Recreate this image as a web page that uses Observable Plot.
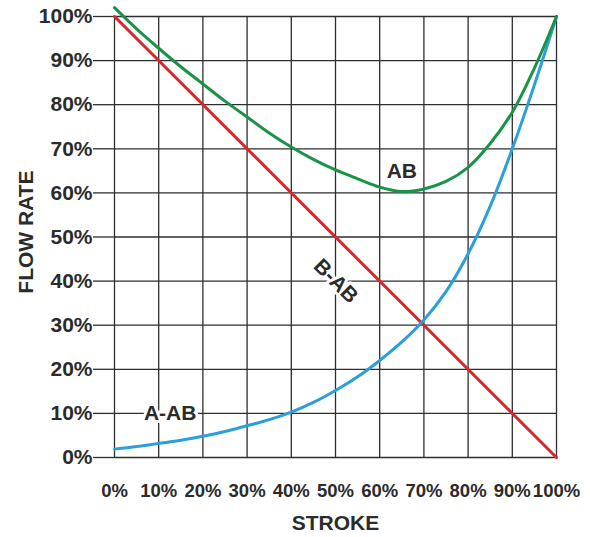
<!DOCTYPE html>
<html><head><meta charset="utf-8">
<script src="https://cdn.jsdelivr.net/npm/d3@7"></script>
<script src="https://cdn.jsdelivr.net/npm/@observablehq/plot@0.6"></script>
<style>body{margin:0;background:#fff}</style>
</head><body><div id="chart"></div>
<script>
// ticks
const tickValues = [0,10,20,30,40,50,60,70,80,90,100];
// B-AB straight line
const strokeBAB = [0, 100];
const flowBAB = [100, 0];
// sampled stroke positions for curves
const strokePts = [0,5,10,15,20,25,30,35,40,45,50,55,60,65,70,75,80,85,90,95,100];
const flowAB  = [102,97.2,92.8,88.6,84.7,80.8,77.2,73.6,70.4,67.6,65.2,63.2,61.3,60.3,60.9,62.6,65.8,71.2,78.3,88.3,100];
const flowAAB = [1.9,2.5,3.2,3.9,4.8,5.9,7.2,8.6,10.3,12.5,15.2,18.3,22.0,26.2,31.2,37.6,46.2,57.0,70.0,84.5,100];
// annotation labels
const labels = [
  {text: "AB",   x: 65,   y: 64.8, rotate: 0},
  {text: "A-AB", x: 12.6, y: 10,   rotate: 0},
  {text: "B-AB", x: 50.1, y: 40,   rotate: 45}
];

const ab = strokePts.map((s,i)=>({s, v: flowAB[i]}));
const aab = strokePts.map((s,i)=>({s, v: flowAAB[i]}));
const bab = strokeBAB.map((s,i)=>({s, v: flowBAB[i]}));
const ink = "#2b2b2b";

const chart = Plot.plot({
  width: 590, height: 537,
  marginLeft: 114, marginRight: 34, marginTop: 16, marginBottom: 80,
  style: {fontFamily: "'Liberation Sans', Arial, sans-serif", fontWeight: "bold", color: ink, background: "#fff"},
  x: {domain: [0,100]},
  y: {domain: [0,100]},
  marks: [
    Plot.ruleX(tickValues, {stroke: "#2e2e2e", strokeWidth: 1.3}),
    Plot.ruleY(tickValues, {stroke: "#2e2e2e", strokeWidth: 1.3}),
    Plot.axisY({ticks: tickValues, tickFormat: d => d + "%", tickSize: 21, tickPadding: 1, fontSize: 21, stroke: "#2e2e2e", strokeWidth: 1.3, label: null}),
    Plot.axisX({ticks: tickValues, tickFormat: d => d + "%", tickSize: 0, tickPadding: 26, fontSize: 18.5, label: null}),
    Plot.line(bab, {x: "s", y: "v", stroke: "#d4282e", strokeWidth: 3}),
    Plot.line(aab, {x: "s", y: "v", stroke: "#2a9fd9", strokeWidth: 3, curve: "catmull-rom"}),
    Plot.line(ab, {x: "s", y: "v", stroke: "#1b9347", strokeWidth: 3, curve: "catmull-rom"}),
    Plot.text(labels, {x: "x", y: "y", text: "text", rotate: "rotate", fontSize: 21, fill: ink, stroke: "white", strokeWidth: 6, paintOrder: "stroke"}),
    Plot.text(["STROKE"], {frameAnchor: "bottom", textAnchor: "middle", lineAnchor: "middle", dy: 66, fontSize: 21, fill: ink}),
    Plot.text(["FLOW RATE"], {frameAnchor: "left", textAnchor: "middle", lineAnchor: "middle", dx: -88, dy: -5, rotate: -90, fontSize: 21, fill: ink})
  ]
});
document.getElementById("chart").append(chart);
</script>
</body></html>
